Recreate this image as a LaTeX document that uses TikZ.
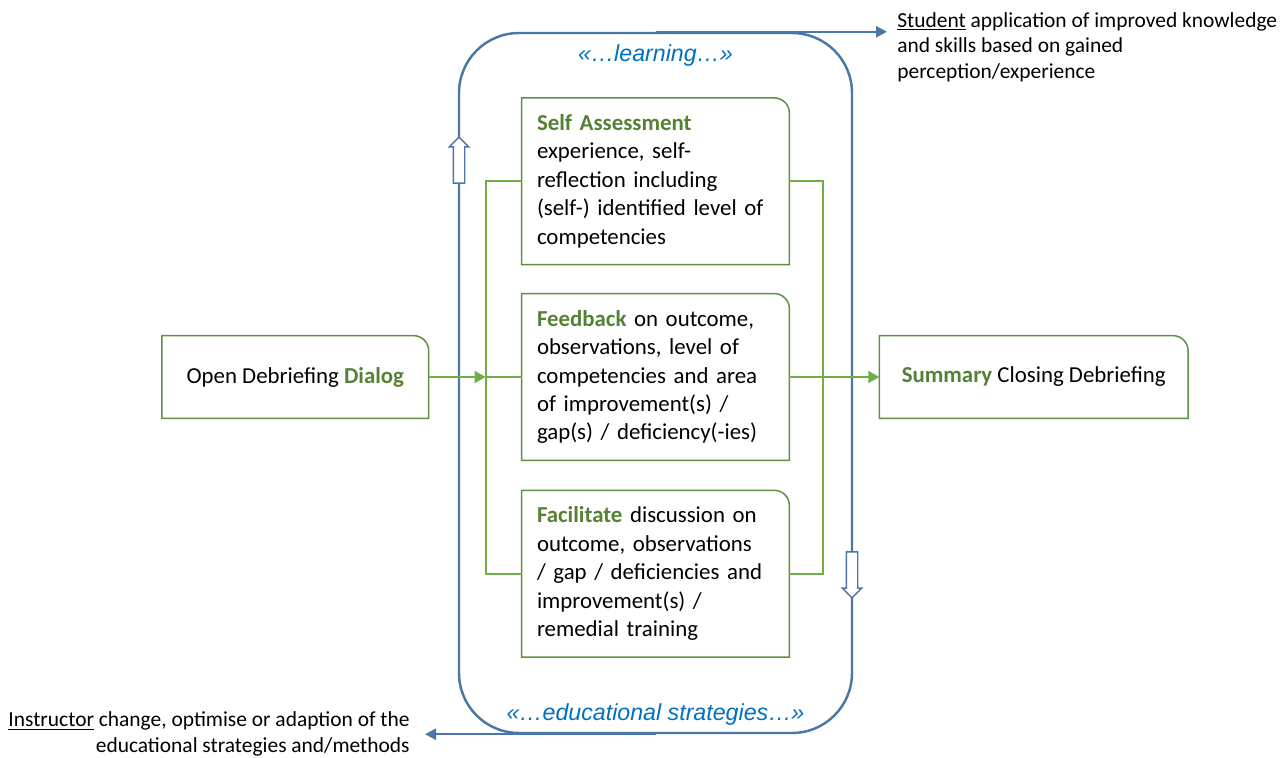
\documentclass[tikz,border=0pt]{standalone}
\usepackage{fontspec}
\setmainfont{Carlito}
\newfontfamily\cuefont{Liberation Sans}
\usepackage{xcolor}
\usetikzlibrary{arrows.meta, positioning, shapes.arrows}
\definecolor{loopblue}{HTML}{4A76A8}
\definecolor{cueblue}{HTML}{0070C0}
\definecolor{boxgreen}{HTML}{5E9140}
\definecolor{textgreen}{HTML}{548235}
\definecolor{linkgreen}{HTML}{70AD47}

\begin{document}
\begin{tikzpicture}[
    stage/.style={rectangle, minimum height=3.32cm,
      text width=4.74cm, inner xsep=0.3cm, align=left,
      font=\fontsize{13}{16.2}\selectfont},
    endpoint/.style={rectangle, minimum height=1.64cm, align=center,
      font=\fontsize{13}{16.2}\selectfont},
    outline/.style={draw=boxgreen, line width=0.85pt},
    bracket/.style={draw=linkgreen, line width=1.1pt},
    flow/.style={bracket, -{Triangle[length=2.2mm, width=2.4mm]}},
    loopline/.style={draw=loopblue, line width=1.4pt},
    reach/.style={loopline, -{Triangle[length=2.2mm, width=2.2mm]}},
    cue/.style={font=\cuefont\itshape\fontsize{13.2}{16}\selectfont,
      text=cueblue},
    note/.style={font=\fontsize{12.2}{14.5}\selectfont, inner ysep=0},
    turn/.style={single arrow, draw=loopblue, fill=white, line width=0.8pt,
      minimum height=0.92cm, inner sep=0.1cm,
      single arrow head extend=0.08cm},
]
\useasboundingbox (0,0) rectangle (25.74,-15.16);

% ── Learning loop ──
\node[loopline, rounded corners=1.2cm, minimum width=7.86cm,
  minimum height=14cm] (loop) at (13.11,-7.66) {};

\node[cue] (learn) at ([yshift=-0.48cm]loop.north) {«…learning…»};
\node[cue] (strat) at ([yshift=0.4cm]loop.south)
  {«…educational strategies…»};

% ── Stage nodes ──
\node[stage] (fb) at (13.11,-7.54) {%
  \textcolor{textgreen}{\textbf{Feedback}} on outcome,\\
  observations, level of\\competencies and area\\
  of improvement(s) /\\gap(s) / deficiency(-ies)};

\node[stage, above=0.58cm of fb] (sa) {%
  \textcolor{textgreen}{\textbf{Self Assessment}}\\
  experience, self-\\reflection including\\
  (self-) identified level of\\competencies};

\node[stage, below=0.6cm of fb] (fa) {%
  \textcolor{textgreen}{\textbf{Facilitate}} discussion on\\
  outcome, observations\\/ gap / deficiencies and\\
  improvement(s) /\\remedial training};

\node[endpoint, minimum width=5.32cm, left=1.86cm of fb] (open)
  {Open Debriefing \textcolor{textgreen}{\textbf{Dialog}}};

\node[endpoint, minimum width=6.16cm, right=1.8cm of fb] (sum)
  {\textcolor{textgreen}{\textbf{Summary}} Closing Debriefing};

% ── Box outlines (top right corner rounded) ──
\draw[outline] (sa.south west) -- (sa.north west) -- ([xshift=-0.3cm]sa.north east)
  arc[start angle=90, end angle=0, radius=0.3cm] -- (sa.south east) -- cycle;
\draw[outline] (fb.south west) -- (fb.north west) -- ([xshift=-0.3cm]fb.north east)
  arc[start angle=90, end angle=0, radius=0.3cm] -- (fb.south east) -- cycle;
\draw[outline] (fa.south west) -- (fa.north west) -- ([xshift=-0.3cm]fa.north east)
  arc[start angle=90, end angle=0, radius=0.3cm] -- (fa.south east) -- cycle;
\draw[outline] (open.south west) -- (open.north west) -- ([xshift=-0.3cm]open.north east)
  arc[start angle=90, end angle=0, radius=0.3cm] -- (open.south east) -- cycle;
\draw[outline] (sum.south west) -- (sum.north west) -- ([xshift=-0.3cm]sum.north east)
  arc[start angle=90, end angle=0, radius=0.3cm] -- (sum.south east) -- cycle;

% ── Green connectors ──
\coordinate (lt) at ([xshift=-0.72cm]sa.west);
\coordinate (rt) at ([xshift=0.68cm]sa.east);
\draw[bracket] (sa.west) -- (lt) |- (fa.west);
\draw[bracket] (sa.east) -- (rt) |- (fa.east);
\draw[flow] (open.east) -- (open.east -| lt);
\draw[bracket] (open.east -| lt) -- (fb.west);
\draw[flow] (fb.east) -- (sum.west);

% ── Outcome notes ──
\node[note, align=left, anchor=west, inner xsep=0.2cm] (stu)
  at (17.74,-0.94) {\underline{Student} application of improved knowledge\\
  and skills based on gained\\perception/experience};

\node[note, align=right, anchor=east, inner xsep=0.3cm] (instr)
  at (8.5,-14.68) {\underline{Instructor} change, optimise or adaption of the\\
  educational strategies and/methods};

\draw[reach] (loop.north) -- (loop.north -| stu.west);
\draw[reach] (loop.south) -- (loop.south -| instr.east);

% ── Direction arrows ──
\node[turn, rotate=90] (up) at (9.18,-3.26) {};
\node[turn, rotate=-90] (down) at (17.04,-11.44) {};

\end{tikzpicture}
\end{document}
